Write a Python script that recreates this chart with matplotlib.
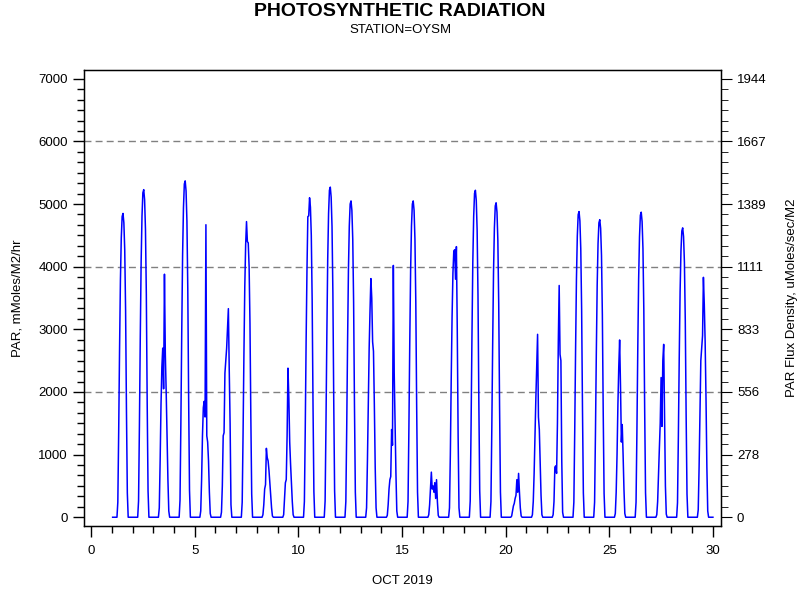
import numpy as np
import matplotlib
matplotlib.use("Agg")
import matplotlib.pyplot as plt
from matplotlib.ticker import MultipleLocator

plt.rcParams['font.family'] = ['Liberation Sans', 'DejaVu Sans']

# Hourly PAR (mMoles/M2/hr) for daylight hours 07..18 local, each day of Oct 2019
hours = [7, 8, 9, 10, 11, 12, 13, 14, 15, 16, 17, 18]
days = list(range(1, 30))
day_values = [
    [240, 1360, 2670, 3780, 4460, 4800, 4850, 4700, 4270, 3300, 1700, 390],   # 1
    [260, 1460, 2880, 4080, 4810, 5180, 5230, 5070, 4600, 3560, 1830, 420],   # 2
    [150, 900, 1800, 2400, 2700, 2050, 3880, 2600, 2000, 1300, 600, 100],     # 3
    [270, 1500, 2950, 4190, 4940, 5320, 5370, 5210, 4730, 3650, 1880, 430],   # 4
    [100, 600, 1300, 1750, 1850, 1600, 4670, 1300, 1200, 900, 400, 60],       # 5
    [80, 500, 1300, 1350, 2300, 2500, 2700, 3000, 3330, 2350, 1500, 200],     # 6
    [240, 1320, 2600, 3680, 4350, 4720, 4400, 4380, 4000, 3100, 1600, 370],   # 7
    [40, 200, 450, 520, 1100, 950, 900, 750, 550, 350, 150, 20],              # 8
    [40, 300, 550, 600, 1300, 2380, 1900, 1200, 850, 550, 250, 40],           # 9
    [250, 1400, 2800, 3950, 4800, 4810, 5100, 4950, 4500, 3470, 1780, 410],   # 10
    [260, 1480, 2900, 4110, 4850, 5220, 5270, 5110, 4640, 3580, 1840, 420],   # 11
    [250, 1410, 2780, 3940, 4650, 5000, 5050, 4900, 4440, 3430, 1770, 400],   # 12
    [150, 900, 1800, 2700, 3300, 3810, 3500, 2800, 2650, 1800, 800, 150],     # 13
    [30, 200, 450, 600, 650, 1400, 1150, 4020, 2300, 1500, 700, 100],         # 14
    [250, 1410, 2780, 3940, 4650, 5000, 5050, 4900, 4440, 3430, 1770, 400],   # 15
    [40, 200, 450, 720, 450, 500, 400, 550, 300, 600, 250, 30],               # 16
    [150, 1000, 2200, 3200, 3900, 4250, 4270, 3800, 4320, 3000, 1300, 150],   # 17
    [260, 1460, 2870, 4070, 4800, 5170, 5220, 5060, 4590, 3550, 1830, 420],   # 18
    [250, 1410, 2760, 3920, 4620, 4970, 5020, 4870, 4420, 3410, 1760, 400],   # 19
    [20, 100, 180, 220, 300, 350, 600, 400, 700, 400, 150, 20],               # 20
    [40, 250, 700, 1300, 1900, 2400, 2920, 1600, 1400, 900, 350, 40],         # 21
    [40, 250, 800, 820, 700, 1500, 2800, 3700, 2600, 2500, 900, 80],          # 22
    [240, 1370, 2680, 3810, 4490, 4830, 4880, 4730, 4290, 3320, 1710, 390],   # 23
    [240, 1330, 2610, 3700, 4370, 4700, 4750, 4610, 4180, 3230, 1660, 380],   # 24
    [60, 400, 1000, 1800, 2400, 2830, 2100, 1200, 1480, 1000, 450, 60],       # 25
    [240, 1360, 2680, 3800, 4480, 4820, 4870, 4720, 4290, 3310, 1700, 390],   # 26
    [40, 250, 700, 1100, 1500, 2230, 1450, 2500, 2760, 1600, 500, 50],        # 27
    [230, 1290, 2540, 3600, 4250, 4570, 4620, 4480, 4070, 3140, 1620, 370],   # 28
    [120, 800, 1700, 2500, 2700, 2900, 3830, 3400, 2800, 1900, 800, 100],     # 29
]

left_ticks = [0, 1000, 2000, 3000, 4000, 5000, 6000, 7000]
grid_values = [2000, 4000, 6000]
x_ticks = [0, 5, 10, 15, 20, 25, 30]
conv = 3.6  # mMoles/M2/hr -> uMoles/sec/M2

# build hourly series
xs, ys = [], []
for d, vals in zip(days, day_values):
    lookup = dict(zip(hours, vals))
    for h in range(24):
        if d == 1 and h == 0:
            continue
        xs.append(d + h / 24.0)
        ys.append(lookup.get(h, 0))
xs.append(30.0)
ys.append(0)

fig = plt.figure(figsize=(8, 6), dpi=100)
ax = fig.add_axes([84 / 800, 1 - 526 / 600, (721 - 84) / 800, (526 - 70) / 600])

for g in grid_values:
    ax.axhline(g, color='#808080', lw=1, ls=(0, (5, 3)), zorder=1)

ax.plot(xs, ys, color='#0000FF', lw=1.1, zorder=3)

ylo, yhi = -140, 7140
ax.set_ylim(ylo, yhi)
ax.set_xlim(-0.34, 30.39)
ax.set_yticks(left_ticks)
ax.yaxis.set_minor_locator(MultipleLocator(1000 / 6))
ax.set_xticks(x_ticks)
ax.xaxis.set_minor_locator(MultipleLocator(1))
ax.tick_params(axis='both', which='major', direction='out', length=8, width=1,
               labelsize=9.5, color='black')
ax.tick_params(axis='both', which='minor', direction='out', length=5, width=1)
ax.tick_params(axis='x', pad=6)
ax.set_ylabel('PAR, mMoles/M2/hr', fontsize=9.5, labelpad=11)
ax.set_xlabel('OCT 2019', fontsize=9.5, labelpad=13)
for s in ax.spines.values():
    s.set_linewidth(1)

ax2 = ax.twinx()
ax2.set_ylim(ylo / conv, yhi / conv)
rt = [v / conv for v in left_ticks]
ax2.set_yticks(rt)
ax2.set_yticklabels([f"{v:.0f}" for v in rt])
ax2.yaxis.set_minor_locator(MultipleLocator(1000 / 6 / conv))
ax2.tick_params(axis='y', which='major', direction='out', length=8, labelsize=9.5)
ax2.tick_params(axis='y', which='minor', direction='out', length=5)
ax2.set_ylabel('PAR Flux Density, uMoles/sec/M2', fontsize=9.5, labelpad=14)

fig.text(0.5, 1 - 11 / 600, 'PHOTOSYNTHETIC RADIATION', ha='center', va='center',
         fontsize=14, fontweight='bold')
fig.text(0.5, 1 - 30 / 600, 'STATION=OYSM', ha='center', va='center', fontsize=9.5)

fig.savefig('out.png', dpi=100)
